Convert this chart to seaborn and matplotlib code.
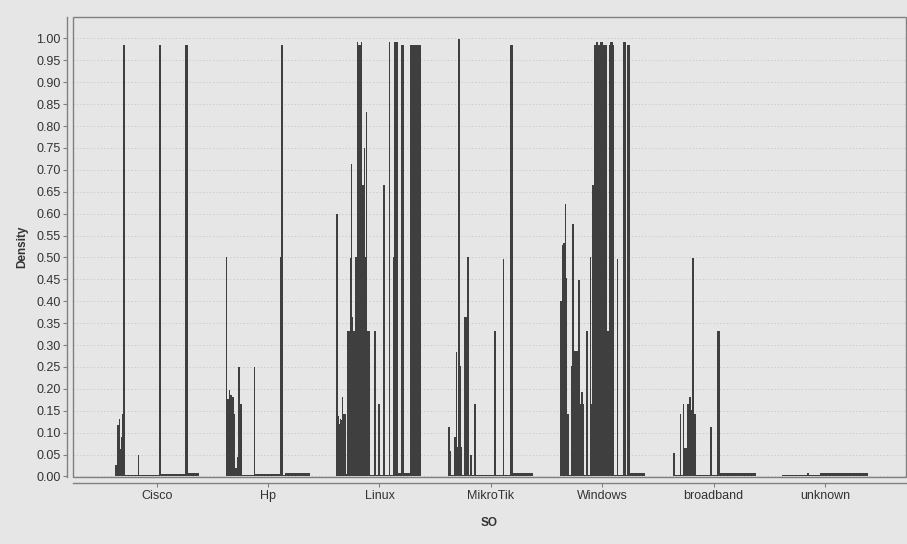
import numpy as np
import pandas as pd
import matplotlib
matplotlib.use("Agg")
import matplotlib.pyplot as plt
from matplotlib.patches import Rectangle
import seaborn as sns

# operating systems on the x axis
categories = ["Cisco", "Hp", "Linux", "MikroTik", "Windows", "broadband", "unknown"]

# each class is a small histogram of 86 bins; runs are (first bin, end bin, density)
N_BINS = 86
cisco = [(1, 3, 0.027), (3, 5, 0.117), (5, 6, 0.13), (6, 7, 0.063), (7, 8, 0.09),
         (8, 9, 0.143), (9, 11, 0.985), (11, 24, 0.004), (24, 25, 0.048),
         (25, 45, 0.004), (45, 47, 0.985), (47, 71, 0.005), (71, 74, 0.985),
         (74, 85, 0.007)]
hp = [(1, 2, 0.50), (2, 4, 0.177), (4, 5, 0.198), (5, 7, 0.185), (7, 9, 0.181),
      (9, 10, 0.143), (10, 12, 0.02), (12, 13, 0.044), (13, 15, 0.25),
      (15, 17, 0.166), (17, 29, 0.004), (29, 30, 0.25), (30, 55, 0.005),
      (55, 56, 0.50), (56, 58, 0.985), (58, 60, 0.004), (60, 85, 0.007)]
linux = [(0, 2, 0.599), (2, 3, 0.139), (3, 4, 0.12), (4, 5, 0.13), (5, 6, 0.128),
         (6, 7, 0.181), (7, 10, 0.143), (10, 11, 0.006), (11, 14, 0.333),
         (14, 15, 0.499), (15, 16, 0.714), (16, 17, 0.364), (17, 19, 0.333),
         (19, 21, 0.50), (21, 22, 0.991), (22, 25, 0.985), (25, 26, 0.991),
         (26, 28, 0.665), (28, 29, 0.749), (29, 30, 0.50), (30, 31, 0.832),
         (31, 34, 0.333), (34, 38, 0.004), (38, 40, 0.333), (40, 42, 0.004),
         (42, 44, 0.166), (44, 47, 0.004), (47, 49, 0.665), (49, 53, 0.004),
         (53, 54, 0.991), (54, 57, 0.004), (57, 58, 0.50), (58, 62, 0.991),
         (62, 65, 0.007), (65, 68, 0.985), (68, 74, 0.007), (74, 85, 0.985)]
mikrotik = [(0, 2, 0.113), (2, 3, 0.059), (3, 6, 0.004), (6, 8, 0.091),
            (8, 9, 0.284), (9, 10, 0.067), (10, 12, 0.998), (12, 13, 0.251),
            (13, 14, 0.067), (14, 16, 0.004), (16, 19, 0.364), (19, 21, 0.50),
            (21, 22, 0.004), (22, 24, 0.048), (24, 26, 0.004), (26, 28, 0.166),
            (28, 46, 0.004), (46, 48, 0.333), (48, 55, 0.004), (55, 56, 0.497),
            (56, 62, 0.004), (62, 65, 0.985), (65, 85, 0.007)]
windows = [(1, 3, 0.40), (3, 4, 0.528), (4, 6, 0.533), (6, 7, 0.623), (7, 8, 0.454),
           (8, 10, 0.143), (10, 12, 0.004), (12, 13, 0.251), (13, 15, 0.577),
           (15, 19, 0.287), (19, 21, 0.449), (21, 22, 0.166), (22, 24, 0.193),
           (24, 25, 0.166), (25, 27, 0.004), (27, 29, 0.333), (29, 31, 0.004),
           (31, 32, 0.50), (32, 33, 0.166), (33, 35, 0.665), (35, 37, 0.985),
           (37, 39, 0.991), (39, 41, 0.985), (41, 44, 0.991), (44, 48, 0.985),
           (48, 50, 0.333), (50, 51, 0.985), (51, 54, 0.991), (54, 55, 0.985),
           (55, 58, 0.004), (58, 59, 0.497), (59, 64, 0.004), (64, 67, 0.991),
           (67, 68, 0.004), (68, 71, 0.985), (71, 86, 0.007)]
broadband = [(2, 4, 0.054), (4, 9, 0.004), (9, 10, 0.143), (10, 12, 0.004),
             (12, 13, 0.166), (13, 16, 0.065), (16, 18, 0.166), (18, 20, 0.181),
             (20, 21, 0.151), (21, 23, 0.499), (23, 25, 0.143), (25, 39, 0.004),
             (39, 41, 0.113), (41, 46, 0.004), (46, 49, 0.333), (49, 85, 0.007)]
unknown = [(0, 25, 0.004), (25, 27, 0.008), (27, 38, 0.004), (38, 86, 0.007)]

runs = [cisco, hp, linux, mikrotik, windows, broadband, unknown]

BIN_W = 1 / 111.4
HALF = N_BINS * BIN_W / 2

# expand the runs into one row per bin
rows = []
for code, (name, cat_runs) in enumerate(zip(categories, runs)):
    for b0, b1, dens in cat_runs:
        for b in range(b0, b1):
            rows.append((name, code * N_BINS * 2 + b, dens))
df = pd.DataFrame(rows, columns=["SO", "key", "density"])
code = df["key"] // (N_BINS * 2)
df["pos"] = code - HALF + (df["key"] % (N_BINS * 2) + 0.5) * BIN_W

sns.set_theme(style="whitegrid")
bg = "#e6e6e6"
plt.rcParams["font.family"] = ["Liberation Sans", "DejaVu Sans"]

fig = plt.figure(figsize=(9.07, 5.44), dpi=100, facecolor=bg)
ax = fig.add_axes([73 / 907, 66.7 / 544, 833 / 907, 460.3 / 544])
ax.set_facecolor(bg)

sns.barplot(data=df, x="pos", y="density", native_scale=True, width=1.0,
            color="#3f3f3f", saturation=1, linewidth=0, errorbar=None, ax=ax)

ax.set_xlim(-0.751, 6.726)
ax.set_ylim(-0.002, 1.049)
ax.set_yticks(np.arange(0, 1.0001, 0.05))
ax.set_yticklabels([f"{v:.2f}" for v in np.arange(0, 1.0001, 0.05)])
ax.set_xticks(range(len(categories)))
ax.set_xticklabels(categories)

ax.grid(False)
ax.grid(axis="y", color="#cdcdcd", linestyle=(0, (1.5, 2)), linewidth=0.7)
ax.set_axisbelow(True)

for side in ["top", "right"]:
    ax.spines[side].set_visible(False)
for side in ["left", "bottom"]:
    ax.spines[side].set_position(("outward", 4))
    ax.spines[side].set_color("#808080")
    ax.spines[side].set_linewidth(1)
ax.add_patch(Rectangle((0, 0), 1, 1, transform=ax.transAxes, fill=False,
                       edgecolor="#808080", linewidth=1, clip_on=False))

ax.tick_params(axis="both", which="major", length=3, width=0.8, color="#808080",
               labelsize=9, labelcolor="#333333", pad=2, bottom=True, left=True)

ax.set_ylabel("Density", fontsize=8.5, fontweight="bold", color="#333333", labelpad=6)
ax.set_xlabel("SO", fontsize=8.5, fontweight="bold", color="#333333", labelpad=11)

fig.savefig("out.png", dpi=100, facecolor=bg)
